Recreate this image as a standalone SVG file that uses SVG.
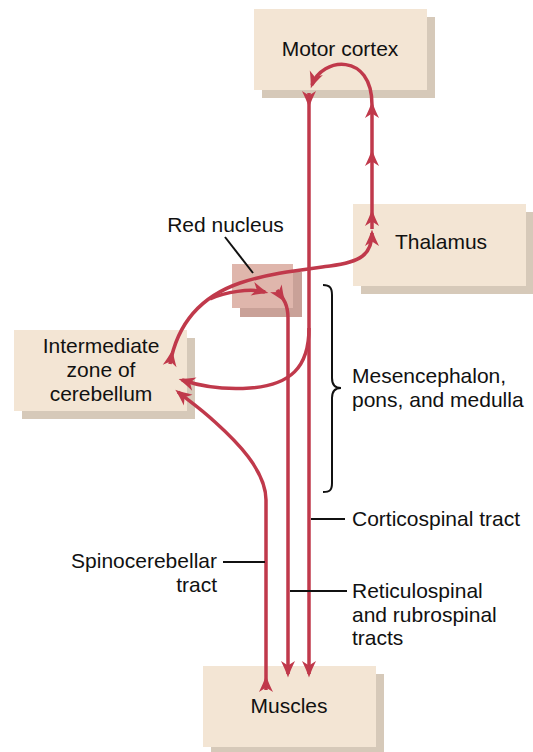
<svg xmlns="http://www.w3.org/2000/svg" width="533" height="752" viewBox="0 0 533 752">
<style>
.box{fill:#f3e5d4}
.sh{fill:#d6c9b9}
.rn{fill:#dfb6ac}
.rnsh{fill:#c9a198}
.t{font-family:"Liberation Sans",Arial,sans-serif;font-size:21px;fill:#111}
.c{text-anchor:middle}
.r{text-anchor:end}
.ln{fill:none;stroke:#c0394b;stroke-width:3.5}
.ld{fill:none;stroke:#111;stroke-width:2}
</style>
<defs>
<marker id="ah" markerUnits="userSpaceOnUse" viewBox="-2 -9 20 18" markerWidth="20" markerHeight="18" refX="12" refY="0" orient="auto">
<path d="M15.5,0 C10,-2 4,-4.5 -1,-7 L3.5,0 L-1,7 C4,4.5 10,2 15.5,0 Z" fill="#c0394b"/>
</marker>
<marker id="st" markerUnits="userSpaceOnUse" viewBox="-2 -9 20 18" markerWidth="20" markerHeight="18" refX="1" refY="0" orient="auto">
<path d="M15.5,0 C10,-2 4,-4.5 -1,-7 L3.5,0 L-1,7 C4,4.5 10,2 15.5,0 Z" fill="#c0394b"/>
</marker>
</defs>

<g id="motor-cortex">
<rect class="sh" x="262" y="17" width="173" height="81"/>
<rect class="box" x="254" y="9" width="173" height="81"/>
<text class="t c" x="340" y="56">Motor cortex</text>
</g>
<g id="thalamus">
<rect class="sh" x="361" y="212" width="173" height="82"/>
<rect class="box" x="353" y="204" width="173" height="82"/>
<text class="t c" x="441" y="249">Thalamus</text>
</g>
<g id="red-nucleus">
<rect class="rnsh" x="240" y="272" width="62" height="45"/>
<rect class="rn" x="232" y="264" width="61" height="44"/>
</g>
<g id="intermediate-zone">
<rect class="sh" x="22" y="338" width="173" height="81"/>
<rect class="box" x="14" y="330" width="173" height="81"/>
<text class="t c" x="101" y="353">Intermediate</text>
<text class="t c" x="101" y="377">zone of</text>
<text class="t c" x="101" y="401">cerebellum</text>
</g>
<g id="muscles">
<rect class="sh" x="211" y="674" width="173" height="81"/>
<rect class="box" x="203" y="666" width="173" height="81"/>
<text class="t c" x="289" y="713">Muscles</text>
</g>

<g id="connectors">
<path class="ln" d="M309,93 L309,674" marker-start="url(#st)" marker-end="url(#ah)"/>
<path class="ln" d="M277,290 C281,296 288,302 288,318 L288,674" marker-start="url(#st)" marker-end="url(#ah)"/>
<path class="ln" d="M266,690 L266,500 C266,470 235,440 215,422 C200,408 188,400 178,392" marker-start="url(#st)" marker-end="url(#ah)"/>
<path class="ln" d="M170,364 C178,320 205,295 240,283 C270,273 300,270 330,266 C360,262 372,255 372,233" marker-start="url(#st)" marker-end="url(#ah)"/>
<path class="ln" d="M372,229 L372,213 L372,153 L372,105 C372,52 322,57 312,85" marker-mid="url(#ah)" marker-end="url(#ah)"/>
<path class="ln" d="M210,299 C225,292 250,288 265,292" marker-end="url(#ah)"/>
<path class="ln" d="M309,328 C309,368 290,385 250,388 C222,390 200,386 182,380" marker-end="url(#ah)"/>
</g>

<g id="labels">
<text class="t c" x="225.5" y="232">Red nucleus</text>
<line class="ld" x1="225" y1="237" x2="253" y2="273"/>
<path class="ld" d="M323,285 C330,285 332,288 332,295 L332,378 C332,385 335,388 341,388 C335,388 332,391 332,398 L332,483 C332,490 330,492 323,492"/>
<text class="t" x="352" y="383">Mesencephalon,</text>
<text class="t" x="352" y="407">pons, and medulla</text>
<line class="ld" x1="311" y1="519" x2="345" y2="519"/>
<text class="t" x="352" y="526">Corticospinal tract</text>
<line class="ld" x1="223" y1="562" x2="265" y2="562"/>
<text class="t r" x="217" y="568">Spinocerebellar</text>
<text class="t r" x="217" y="592">tract</text>
<line class="ld" x1="290" y1="591" x2="347" y2="591"/>
<text class="t" x="352" y="598">Reticulospinal</text>
<text class="t" x="352" y="622">and rubrospinal</text>
<text class="t" x="352" y="645">tracts</text>
</g>
</svg>
